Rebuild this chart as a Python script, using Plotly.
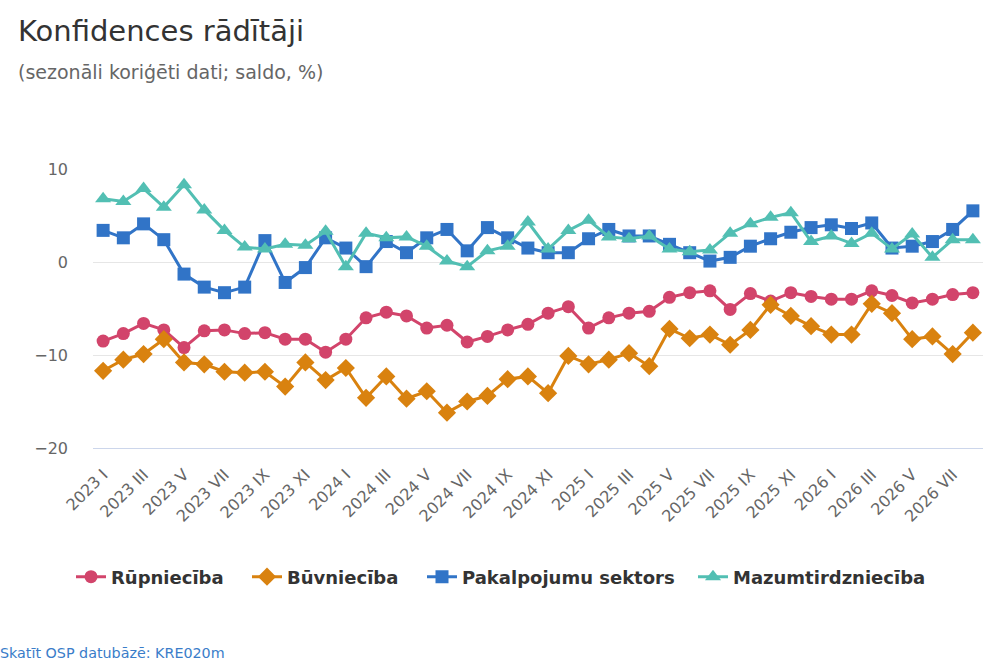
import plotly.graph_objects as go

# ----------- Data -----------
years = [2023, 2024, 2025, 2026]
roman = ["I", "II", "III", "IV", "V", "VI", "VII", "VIII", "IX", "X", "XI", "XII"]
months = [f"{y} {m}" for y in years for m in roman][:44]  # 2023 I .. 2026 VIII
tick_labels = months[::2]

rupnieciba = [-8.5, -7.7, -6.6, -7.3, -9.2, -7.4, -7.3, -7.7, -7.6, -8.3, -8.3,
              -9.7, -8.3, -6.0, -5.4, -5.8, -7.1, -6.8, -8.6, -8.0, -7.3, -6.7,
              -5.5, -4.8, -7.1, -6.0, -5.5, -5.3, -3.8, -3.3, -3.1, -5.1, -3.4,
              -4.2, -3.3, -3.7, -4.0, -4.0, -3.1, -3.6, -4.4, -4.0, -3.5, -3.3]
buvnieciba = [-11.7, -10.5, -9.9, -8.3, -10.8, -11.0, -11.8, -11.9, -11.8, -13.4,
              -10.8, -12.7, -11.4, -14.6, -12.3, -14.7, -13.9, -16.2, -15.0, -14.4,
              -12.6, -12.3, -14.1, -10.1, -11.0, -10.5, -9.8, -11.2, -7.2, -8.2,
              -7.8, -8.9, -7.3, -4.6, -5.8, -6.9, -7.8, -7.8, -4.5, -5.5, -8.3,
              -8.0, -9.9, -7.6]
pakalpojumi = [3.4, 2.6, 4.1, 2.4, -1.3, -2.7, -3.3, -2.7, 2.3, -2.2, -0.6, 2.6,
               1.5, -0.5, 2.2, 1.0, 2.6, 3.5, 1.2, 3.7, 2.6, 1.5, 1.0, 1.0, 2.5,
               3.5, 2.8, 2.8, 1.9, 1.0, 0.1, 0.5, 1.7, 2.5, 3.2, 3.7, 4.0, 3.6,
               4.2, 1.5, 1.7, 2.2, 3.5, 5.5]
mazumtirdznieciba = [6.8, 6.5, 7.9, 5.9, 8.3, 5.6, 3.4, 1.6, 1.4, 1.9, 1.8, 3.3,
                     -0.5, 3.1, 2.6, 2.7, 1.7, 0.1, -0.5, 1.2, 1.7, 4.3, 1.4, 3.4,
                     4.5, 2.7, 2.5, 2.8, 1.4, 1.1, 1.3, 3.1, 4.1, 4.8, 5.3, 2.2,
                     2.8, 2.0, 3.1, 1.4, 3.0, 0.5, 2.4, 2.4]

series = [
    ("Rūpniecība", rupnieciba, "#d2446b", "circle", 13),
    ("Būvniecība", buvnieciba, "#d9820f", "diamond", 14),
    ("Pakalpojumu sektors", pakalpojumi, "#3174c7", "square", 13),
    ("Mazumtirdzniecība", mazumtirdznieciba, "#52bfb3", "triangle-up", 14),
]

FONT = "DejaVu Sans"
PLOT_L, PLOT_W, PLOT_B, PLOT_H = 93, 890, 448, 279


def px_x(x):
    return (x - PLOT_L) / PLOT_W


def px_y(y):
    return (PLOT_B - y) / PLOT_H


# each legend entry gets its own legend box so the spacing follows the original
legend_left = [77, 253, 428, 699]
legend_ids = ["legend", "legend2", "legend3", "legend4"]

# ----------- Figure -----------
fig = go.Figure()
for (name, values, color, symbol, size), lid in zip(series, legend_ids):
    fig.add_trace(go.Scatter(
        x=months, y=values, name=name, mode="lines+markers",
        line=dict(color=color, width=3),
        marker=dict(color=color, symbol=symbol, size=size),
        legend=lid,
    ))

legend_style = dict(
    orientation="h", yanchor="middle", y=px_y(577), xanchor="left",
    font=dict(family=FONT, size=18, color="#333333", weight="bold"),
    bgcolor="rgba(0,0,0,0)", borderwidth=0,
)
layout_legends = {
    lid: dict(legend_style, x=px_x(left - 6))
    for lid, left in zip(legend_ids, legend_left)
}

fig.update_layout(
    width=1000, height=667,
    margin=dict(l=93, r=17, t=169, b=219, autoexpand=False),
    paper_bgcolor="white", plot_bgcolor="white",
    font=dict(family=FONT, color="#666666"),
    showlegend=True,
    annotations=[
        dict(text="Konfidences rādītāji", xref="paper", yref="paper",
             x=px_x(16), y=px_y(31), xanchor="left", yanchor="middle",
             showarrow=False, font=dict(family=FONT, size=29, color="#333333")),
        dict(text="(sezonāli koriģēti dati; saldo, %)", xref="paper", yref="paper",
             x=px_x(16), y=px_y(72), xanchor="left", yanchor="middle",
             showarrow=False, font=dict(family=FONT, size=19, color="#666666")),
        dict(text="Skatīt OSP datubāzē: KRE020m", xref="paper", yref="paper",
             x=px_x(-2), y=px_y(653), xanchor="left", yanchor="middle",
             showarrow=False, font=dict(family=FONT, size=14.3, color="#3a7dc9")),
    ],
    **layout_legends,
)

fig.update_xaxes(
    type="category", range=[-0.5, len(months) - 0.5],
    tickvals=tick_labels, ticktext=tick_labels, tickangle=-45,
    tickfont=dict(size=16, color="#666666"), ticklabelstandoff=10,
    showgrid=False, showline=True, linecolor="#ccd6eb", linewidth=1,
    ticks="", zeroline=False,
)
fig.update_yaxes(
    range=[-20, 10], tickvals=[-20, -10, 0, 10],
    tickfont=dict(size=16, color="#666666"),
    showgrid=True, gridcolor="#e6e6e6", gridwidth=1,
    zeroline=False, ticks="", ticklabelstandoff=24,
)

# drop the default page margin so the figure sits at the window corner
fig.write_html("out.html", config={"displayModeBar": False},
               post_script="document.body.style.margin = '0';")
